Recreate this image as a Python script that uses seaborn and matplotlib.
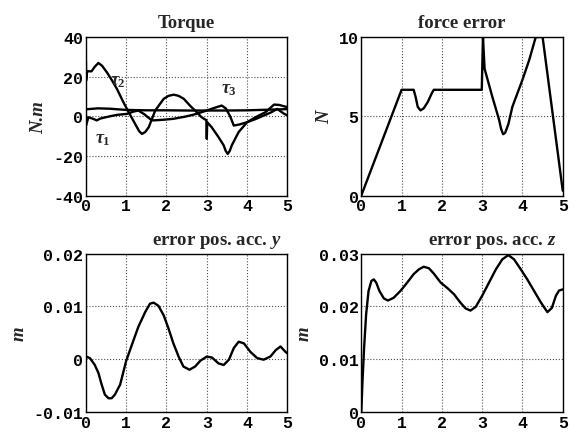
import matplotlib
matplotlib.use("Agg")
import matplotlib.pyplot as plt
import seaborn as sns

# --- data ---
t_tau1 = [0, 0.3, 0.6, 1.0, 1.5, 2.0, 2.5, 3.0, 3.5, 4.0, 4.5, 5.0]
tau1 = [3.5, 4.0, 3.8, 3.2, 3.0, 3.0, 2.9, 2.9, 2.9, 3.0, 3.3, 3.6]

t_tau2 = [0, 0.005, 0.03, 0.14, 0.22, 0.31, 0.4, 0.52, 0.65, 0.77, 0.93, 1.06,
          1.22, 1.32, 1.39, 1.47, 1.56, 1.72, 1.93, 2.05, 2.18, 2.3, 2.43, 2.6,
          2.71, 2.87, 2.99, 3.0, 3.01, 3.12, 3.29, 3.42, 3.47, 3.52, 3.57, 3.62,
          3.79, 4.0, 4.21, 4.46, 4.67, 4.8, 4.96, 5.0]
tau2 = [28, 18, 22.7, 22.7, 25, 26.9, 25.5, 22.2, 18, 13.8, 7.1, 2.1,
        -3.8, -7.5, -8.9, -8, -5.5, 2.9, 8.8, 10.3, 10.9, 10.3, 8.8, 5,
        2.9, -0.5, -2, -11.4, -3, -5.5, -10.5, -14.7, -17.5, -19, -17.5, -14.7,
        -8, -3, -0.5, 2.1, 5.9, 5.7, 4.8, 4.7]

t_tau3 = [0, 0.005, 0.06, 0.18, 0.27, 0.35, 0.43, 0.6, 0.77, 1.02, 1.17, 1.3,
          1.45, 1.6, 1.67, 1.9, 2.17, 2.46, 2.67, 2.8, 3.0, 3.2, 3.37, 3.47,
          3.58, 3.67, 3.8, 4.0, 4.2, 4.42, 4.6, 4.75, 4.9, 5.0]
tau3 = [1.2, -4.7, -0.5, -1.3, -2.1, -1.2, -0.8, 0, 0.7, 1.2, 2.3, 2.9,
        1.0, -1.5, -2.1, -1.8, -1.3, -0.2, 0.8, 1.6, 2.9, 4.3, 5.4, 4.0,
        0, -4.7, -4.2, -3.0, -1.5, 0.4, 2.0, 3.7, 1.5, 0.4]

t_force = [0, 1.0, 1.30, 1.35, 1.40, 1.47, 1.55, 1.65, 1.75, 1.80, 2.99, 3.02,
           3.06, 3.25, 3.42, 3.47, 3.52, 3.57, 3.65, 3.75, 4.0, 4.17, 4.33, 4.5, 5.0]
force_err = [0, 6.67, 6.67, 6.2, 5.6, 5.37, 5.5, 5.9, 6.45, 6.67, 6.67, 10,
             8.0, 6.25, 4.78, 4.2, 3.87, 3.95, 4.5, 5.6, 7.3, 8.57, 10, 10, 0.3]

t_ey = [0, 0.1, 0.22, 0.31, 0.39, 0.47, 0.56, 0.64, 0.72, 0.85, 1.0, 1.14,
        1.30, 1.47, 1.59, 1.68, 1.80, 1.93, 2.05, 2.17, 2.30, 2.42, 2.57, 2.71,
        2.84, 3.0, 3.13, 3.29, 3.42, 3.55, 3.67, 3.79, 3.92, 4.08, 4.25, 4.41,
        4.58, 4.71, 4.83, 4.95, 5.0]
err_y = [0.0005, 0.0002, -0.0011, -0.0026, -0.0048, -0.0067, -0.0074, -0.0074,
         -0.0067, -0.0048, -0.0003, 0.0027, 0.0061, 0.0089, 0.0105, 0.0107,
         0.0101, 0.0083, 0.0058, 0.003, 0.0005, -0.0014, -0.002, -0.0014,
         -0.0003, 0.0005, 0.0003, -0.0008, -0.0011, -0.0001, 0.0021, 0.0033,
         0.003, 0.0014, 0.0002, -0.0001, 0.0005, 0.0017, 0.0024, 0.0014, 0.0011]

t_ez = [0, 0.03, 0.07, 0.12, 0.18, 0.25, 0.31, 0.37, 0.45, 0.56, 0.66, 0.8,
        0.97, 1.14, 1.30, 1.43, 1.55, 1.68, 1.80, 1.97, 2.13, 2.30, 2.46, 2.59,
        2.71, 2.84, 3.0, 3.17, 3.34, 3.50, 3.65, 3.79, 3.96, 4.12, 4.29, 4.46,
        4.62, 4.73, 4.83, 4.91, 5.0]
err_z = [0, 0.0058, 0.0122, 0.0185, 0.0229, 0.0248, 0.0251, 0.0245, 0.0229,
         0.0215, 0.0211, 0.0216, 0.0229, 0.0245, 0.0261, 0.027, 0.0275, 0.0272,
         0.0262, 0.0245, 0.0235, 0.0223, 0.0207, 0.0196, 0.0192, 0.0199, 0.022,
         0.0245, 0.027, 0.0289, 0.0297, 0.0289, 0.027, 0.0251, 0.0229, 0.0207,
         0.0189, 0.0197, 0.022, 0.023, 0.0232]

x_ticks = [0, 1, 2, 3, 4, 5]
x_labels = ["0", "1", "2", "3", "4", "5"]
torque_ticks = [-40, -20, 0, 20, 40]
torque_labels = ["-40", "-20", "0", "20", "40"]
force_ticks = [0, 5, 10]
force_labels = ["0", "5", "10"]
ey_ticks = [-0.01, 0, 0.01, 0.02]
ey_labels = ["-0.01", "0", "0.01", "0.02"]
ez_ticks = [0, 0.01, 0.02, 0.03]
ez_labels = ["0", "0.01", "0.02", "0.03"]

# --- style ---
sns.set_style("white")
plt.rcParams["font.family"] = ["Liberation Mono", "DejaVu Sans"]
plt.rcParams["font.weight"] = "bold"
plt.rcParams["axes.unicode_minus"] = False
plt.rcParams["axes.grid"] = True
plt.rcParams["grid.color"] = "0.3"
plt.rcParams["grid.linestyle"] = ":"
plt.rcParams["grid.linewidth"] = 0.8
plt.rcParams["mathtext.fontset"] = "custom"
plt.rcParams["mathtext.rm"] = "Liberation Serif:bold"
plt.rcParams["mathtext.it"] = "Liberation Serif:italic:bold"
plt.rcParams["mathtext.bf"] = "Liberation Serif:bold"

serif = dict(family="Liberation Serif", weight="bold", size=13.5)
lab = dict(family="Liberation Serif", weight="bold", style="italic", size=13.5)

fig, axes = plt.subplots(2, 2, figsize=(5.69, 4.35), dpi=100)
fig.subplots_adjust(left=0.151, right=0.989, top=0.9126, bottom=0.0506,
                    wspace=0.367, hspace=0.366)


def style_ax(ax, yticks, ylabels, ylim):
    ax.set_xlim(0, 5)
    ax.set_ylim(*ylim)
    ax.set_xticks(x_ticks)
    ax.set_xticklabels(x_labels)
    ax.set_yticks(yticks)
    ax.set_yticklabels(ylabels)
    ax.tick_params(direction="in", length=3, width=0.8, labelsize=12, pad=2,
                   colors="black")
    ax.grid(True, which="major", axis="both", color="0.3", linestyle=":",
            linewidth=0.8)
    for s in ax.spines.values():
        s.set_color("black")
        s.set_linewidth(1.0)
        s.set_visible(True)
    ax.set_xlabel("")


line_kw = dict(color="black", linewidth=1.7, estimator=None, sort=False)

# Torque
ax = axes[0, 0]
sns.lineplot(x=t_tau1, y=tau1, ax=ax, **line_kw)
sns.lineplot(x=t_tau2, y=tau2, ax=ax, **line_kw)
sns.lineplot(x=t_tau3, y=tau3, ax=ax, **line_kw)
style_ax(ax, torque_ticks, torque_labels, (-40, 40))
ax.set_title("Torque", pad=7, **serif)
ax.set_ylabel("N.m", labelpad=4, **lab)
ax.text(0.79, 18, r"$\tau_2$", fontsize=13, ha="center", va="center")
ax.text(3.54, 13.8, r"$\tau_3$", fontsize=13, ha="center", va="center")
ax.text(0.41, -11.4, r"$\tau_1$", fontsize=13, ha="center", va="center")

# force error
ax = axes[0, 1]
sns.lineplot(x=t_force, y=force_err, ax=ax, **line_kw)
style_ax(ax, force_ticks, force_labels, (0, 10))
ax.set_title("force error", pad=7, **serif)
ax.set_ylabel("N", labelpad=4, **lab)

# error pos acc y
ax = axes[1, 0]
sns.lineplot(x=t_ey, y=err_y, ax=ax, **line_kw)
style_ax(ax, ey_ticks, ey_labels, (-0.01, 0.02))
ax.set_title(r"error pos. acc. $y$", loc="right", x=0.97, pad=7, **serif)
ax.set_ylabel("m", labelpad=4, **lab)

# error pos acc z
ax = axes[1, 1]
sns.lineplot(x=t_ez, y=err_z, ax=ax, **line_kw)
style_ax(ax, ez_ticks, ez_labels, (0, 0.03))
ax.set_title(r"error pos. acc. $z$", loc="right", x=0.97, pad=7, **serif)
ax.set_ylabel("m", labelpad=4, **lab)

fig.savefig("out.png", dpi=100)
